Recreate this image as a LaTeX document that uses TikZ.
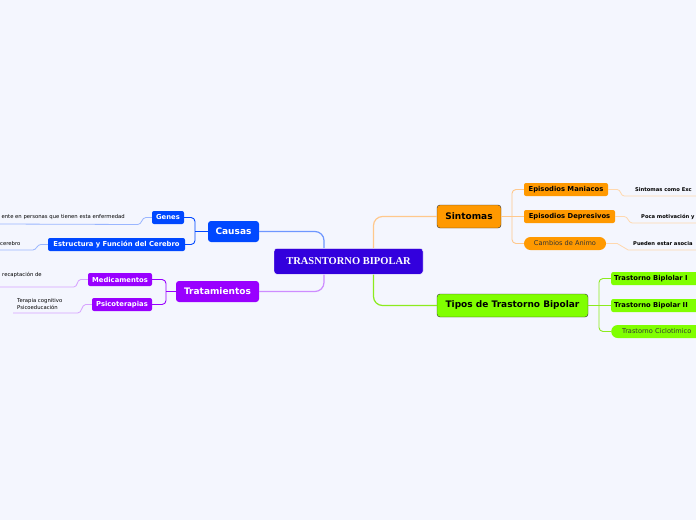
\documentclass[tikz,border=0pt]{standalone}
\usepackage{fontspec}
\setmainfont{DejaVu Sans}
\newfontfamily\titlefont{Liberation Serif}
\usetikzlibrary{math}
\definecolor{mybg}{RGB}{244,246,254}
\definecolor{myindigo}{RGB}{51,0,221}
\definecolor{myblue}{RGB}{0,72,255}
\definecolor{mypurple}{RGB}{153,0,255}
\definecolor{myorange}{RGB}{255,153,0}
\definecolor{mygreen}{RGB}{128,255,0}
\definecolor{mydark}{RGB}{51,51,51}
\definecolor{linkblue}{RGB}{110,150,255}
\definecolor{linkpurple}{RGB}{205,140,255}
\definecolor{linkorange}{RGB}{255,200,140}
\definecolor{linkgreen}{RGB}{140,235,30}
\tikzset{
  topic/.style={rounded corners=3pt, inner xsep=0pt, inner ysep=0pt,
    font=\bfseries\fontsize{9}{10}\selectfont},
  subtopic/.style={rounded corners=2pt, inner xsep=0pt, inner ysep=0pt, minimum height=13pt,
    font=\bfseries\fontsize{6.8}{8}\selectfont},
  pilltopic/.style={rounded corners=6.5pt, inner xsep=0pt, inner ysep=0pt, minimum height=13pt,
    text=mydark, font=\fontsize{6.6}{8}\selectfont},
  leaftext/.style={inner sep=0pt, font=\fontsize{5.3}{6.4}\selectfont, align=left},
  leafbold/.style={inner sep=0pt, font=\bfseries\fontsize{5.2}{6.2}\selectfont},
  link/.style={line width=1.2pt, rounded corners=9pt},
  sublink/.style={line width=0.9pt, rounded corners=4pt},
}

\begin{document}
\begin{tikzpicture}[x=1pt,y=-1pt]
\tikzmath{
\W=696;
\H=520;
}
\fill[mybg] (0,0) rectangle (\W,\H);
\useasboundingbox (0,0) rectangle (\W,\H);

\node[fill=myindigo, draw=white, text=white, rounded corners=3pt, minimum width=149pt, minimum height=26pt,
  font=\titlefont\bfseries\fontsize{10.5}{12}\selectfont] (main) at (348.5,261.3) {TRASNTORNO BIPOLAR};

\node[topic, fill=myblue, text=white, minimum width=51pt, minimum height=21pt] (causas) at (233.5,231.5) {Causas};
\node[topic, fill=mypurple, text=white, minimum width=83pt, minimum height=21pt] (trat) at (217.5,291.5) {Tratamientos};
\node[topic, fill=myorange, draw=mydark, minimum width=64pt, minimum height=23pt] (sint) at (469,216.5) {Sintomas};
\node[topic, fill=mygreen, draw=mydark, minimum width=151pt, minimum height=23pt] (tipos) at (512.5,305.5) {Tipos de Trastorno Bipolar};

\node[subtopic, fill=myblue, text=white, minimum width=32pt] (genes) at (168,217.5) {Genes};
\node[subtopic, fill=myblue, text=white, minimum width=137pt] (estr) at (116.5,244.5) {Estructura y Función del Cerebro};
\node[subtopic, fill=mypurple, text=white, minimum width=64pt] (medic) at (120,279.5) {Medicamentos};
\node[subtopic, fill=mypurple, text=white, minimum width=60pt] (psico) at (122,304.5) {Psicoterapias};

\node[subtopic, fill=myorange, minimum width=84pt] (mania) at (566,189.5) {Episodios Maniacos};
\node[subtopic, fill=myorange, minimum width=91pt] (depre) at (569.5,216.5) {Episodios Depresivos};
\node[pilltopic, fill=myorange, minimum width=82pt] (cambios) at (565,243.5) {Cambios de Animo};

\node[subtopic, fill=mygreen, anchor=west, minimum width=90pt, text width=84pt, align=left] (bip1) at (611,278.5) {Trastorno Biplolar I};
\node[subtopic, fill=mygreen, anchor=west, minimum width=90pt, text width=84pt, align=left] (bip2) at (611,305.5) {Trastorno Bipolar II};
\node[pilltopic, fill=mygreen, anchor=west, inner xsep=11pt, text width=80pt, align=left] (ciclo) at (611,331.5) {Trastorno Ciclotimico};

\node[leaftext, anchor=east] (genesnote) at (125,217) {ente en personas que tienen esta enfermedad};
\node[leaftext, anchor=west] (estrnote) at (0,244) {cerebro};
\node[leaftext, anchor=west] (medicnote) at (2,274.5) {recaptación de};
\node[leaftext, anchor=west] (psiconote) at (17,304.2) {Terapia cognitivo\\Psicoeducación};
\node[leafbold, anchor=west] (manianote) at (635,190) {Sintomas como Exc};
\node[leafbold, anchor=west] (deprenote) at (641,216.5) {Poca motivación y};
\node[leafbold, anchor=west] (cambiosnote) at (633,243.5) {Pueden estar asocia};

\coordinate (genesend) at (0,224);
\coordinate (estrend) at (0,250);
\coordinate (medicend) at (0,287);
\coordinate (psicoend) at (13,313);
\coordinate (maniaend) at (\W,196);
\coordinate (depreend) at (\W,223);
\coordinate (cambiosend) at (\W,250);

\coordinate (cspine) at (195,231.5);
\coordinate (tspine) at (166,291.5);
\coordinate (sspine) at (512,216.5);
\coordinate (gspine) at (599,305.5);

\draw[link, linkblue] (causas.east) -| ([xshift=-24.5pt]main.north);
\draw[link, linkpurple] (trat.east) -| ([xshift=-24.5pt]main.south);
\draw[link, linkorange] (sint.west) -| ([xshift=25pt]main.north);
\draw[link, linkgreen] (tipos.west) -| ([xshift=25pt]main.south);

\draw[sublink, myblue] (causas.west) -- (cspine);
\draw[sublink, myblue] (genes.east) -| (cspine) |- (estr.east);
\draw[sublink, mypurple] (trat.west) -- (tspine);
\draw[sublink, mypurple] (medic.east) -| (tspine) |- (psico.east);
\draw[sublink, linkorange] (sint.east) -- (depre.west);
\draw[sublink, linkorange] (mania.west) -| (sspine) |- (cambios.west);
\draw[sublink, linkgreen] (tipos.east) -- (bip2.west);
\draw[sublink, linkgreen] (bip1.west) -| (gspine) |- (ciclo.west);

\draw[linkblue!70, line width=0.8pt] (genes.west) -- ++(-6,0) to[out=180,in=0] ++(-8,7) -- (genesend);
\draw[linkblue!70, line width=0.8pt] (estr.west) -- ++(-7,0) to[out=180,in=0] ++(-8,5.5) -- (estrend);
\draw[linkpurple!80, line width=0.8pt] (medic.west) -- ++(-7,0) to[out=180,in=0] ++(-7,7.5) -- (medicend);
\draw[linkpurple!80, line width=0.8pt] (psico.west) -- ++(-6,0) to[out=180,in=0] ++(-8,8.5) -- (psicoend);
\draw[linkorange!70, line width=0.8pt] (mania.east) -- ++(9,0) to[out=0,in=180] ++(7,6.5) -- (maniaend);
\draw[linkorange!70, line width=0.8pt] (depre.east) -- ++(9,0) to[out=0,in=180] ++(8,6.5) -- (depreend);
\draw[linkorange!70, line width=0.8pt] (cambios.east) -- ++(11,0) -- ++(11,6.5) -- (cambiosend);
\end{tikzpicture}
\end{document}
